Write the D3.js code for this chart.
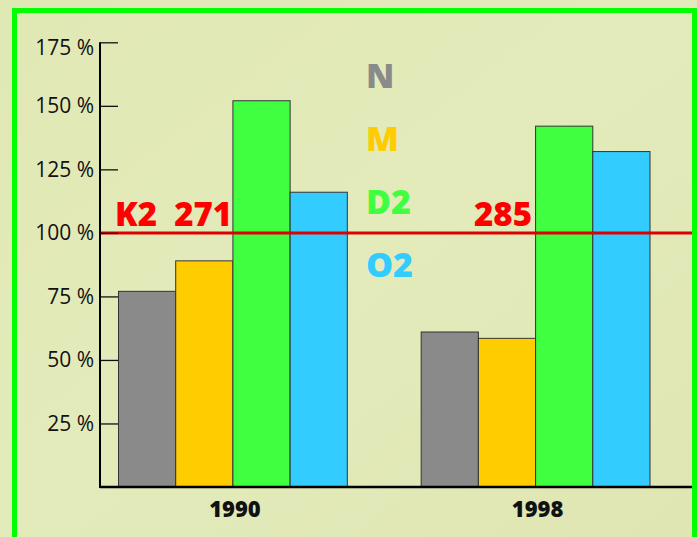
<!DOCTYPE html>
<html><head><meta charset="utf-8">
<script src="https://cdn.jsdelivr.net/npm/d3@7"></script>
<style>
html,body{margin:0;padding:0;background:#e2e9b7;}
svg{display:block;font-family:"Open Sans","Noto Sans",sans-serif;}
</style></head>
<body>
<svg id="chart" width="697" height="537"></svg>
<script>
const years = ["1990", "1998"];
const series = ["N", "M", "D2", "O2"];
const colors = ["#8a8a8a", "#ffcc00", "#40ff40", "#33ccff"];
const values1990 = [77, 89, 152, 116];
const values1998 = [61, 58.5, 142, 132];
const yTicks = [25, 50, 75, 100, 125, 150, 175];
const refValue = 100;
const refLabels = ["K2  271", "285"];

const values = [values1990, values1998];
const svg = d3.select("#chart");

const defs = svg.append("defs");
const grad = defs.append("linearGradient").attr("id","bg").attr("x1","0").attr("y1","0").attr("x2","1").attr("y2","1");
grad.append("stop").attr("offset","0").attr("stop-color","#e0e8b4");
grad.append("stop").attr("offset","0.5").attr("stop-color","#e4ebbb");
grad.append("stop").attr("offset","1").attr("stop-color","#dfe6b3");
svg.append("rect").attr("width",697).attr("height",537).attr("fill","url(#bg)");

// frame
svg.append("rect").attr("x",14.5).attr("y",10.5).attr("width",680).attr("height",600)
  .attr("fill","none").attr("stroke","#00ff00").attr("stroke-width",5);

const y = d3.scaleLinear().domain([0,175]).range([487,42.3]);
const x0 = d3.scaleBand().domain(years).range([118.5,650]).paddingInner(0.244);
const x1 = d3.scaleBand().domain(series).range([0,x0.bandwidth()]);

// bars
const g = svg.append("g");
years.forEach((yr,i)=>{
  g.selectAll(null).data(series).enter().append("rect")
    .attr("x",d=>x0(yr)+x1(d))
    .attr("y",(d,j)=>y(values[i][j]))
    .attr("width",x1.bandwidth())
    .attr("height",(d,j)=>y(0)-y(values[i][j]))
    .attr("fill",(d,j)=>colors[j])
    .attr("stroke","#333")
    .attr("stroke-width",1);
});

// reference line
svg.append("line").attr("x1",100).attr("x2",692).attr("y1",y(refValue)).attr("y2",y(refValue))
  .attr("stroke","#dd0000").attr("stroke-width",3);

// y axis
const yAxis = d3.axisRight(y).tickValues(yTicks).tickSize(18).tickFormat("");
const ya = svg.append("g").attr("transform","translate(100,0)").call(yAxis);
ya.select(".domain").remove();
ya.selectAll(".tick line").attr("stroke","#111").attr("stroke-width",1.3);
svg.append("line").attr("x1",100).attr("x2",100).attr("y1",y(175)).attr("y2",y(0)+1)
  .attr("stroke","#000").attr("stroke-width",2);
svg.selectAll(".ylab").data(yTicks).enter().append("text")
  .attr("class","ylab")
  .attr("x",94).attr("y",d=>y(d)+(d===175?5:0))
  .attr("dy","0.35em").attr("text-anchor","end")
  .attr("font-size",21).attr("fill","#111")
  .text(d=>d+" %");

// x axis
svg.append("line").attr("x1",100).attr("x2",692).attr("y1",y(0)).attr("y2",y(0))
  .attr("stroke","#000").attr("stroke-width",2.5);
svg.selectAll(".xlab").data(years).enter().append("text")
  .attr("x",d=>x0(d)+x0.bandwidth()/2+2).attr("y",517)
  .attr("text-anchor","middle").attr("font-weight",800)
  .attr("font-size",22).attr("fill","#111").text(d=>d);

// reference labels
svg.append("text").attr("x",115).attr("y",226).attr("font-weight",800).attr("font-size",33)
  .attr("fill","#ff0000").attr("xml:space","preserve").style("white-space","pre").text(refLabels[0]);
svg.append("text").attr("x",532).attr("y",226).attr("text-anchor","end").attr("font-weight",800).attr("font-size",33)
  .attr("fill","#ff0000").text(refLabels[1]);

// legend
svg.selectAll(".leg").data(series).enter().append("text")
  .attr("x",366).attr("y",(d,i)=>88+i*63)
  .attr("font-weight",800).attr("font-size",34)
  .attr("fill",(d,i)=>colors[i]).text(d=>d);
</script>
</body></html>
